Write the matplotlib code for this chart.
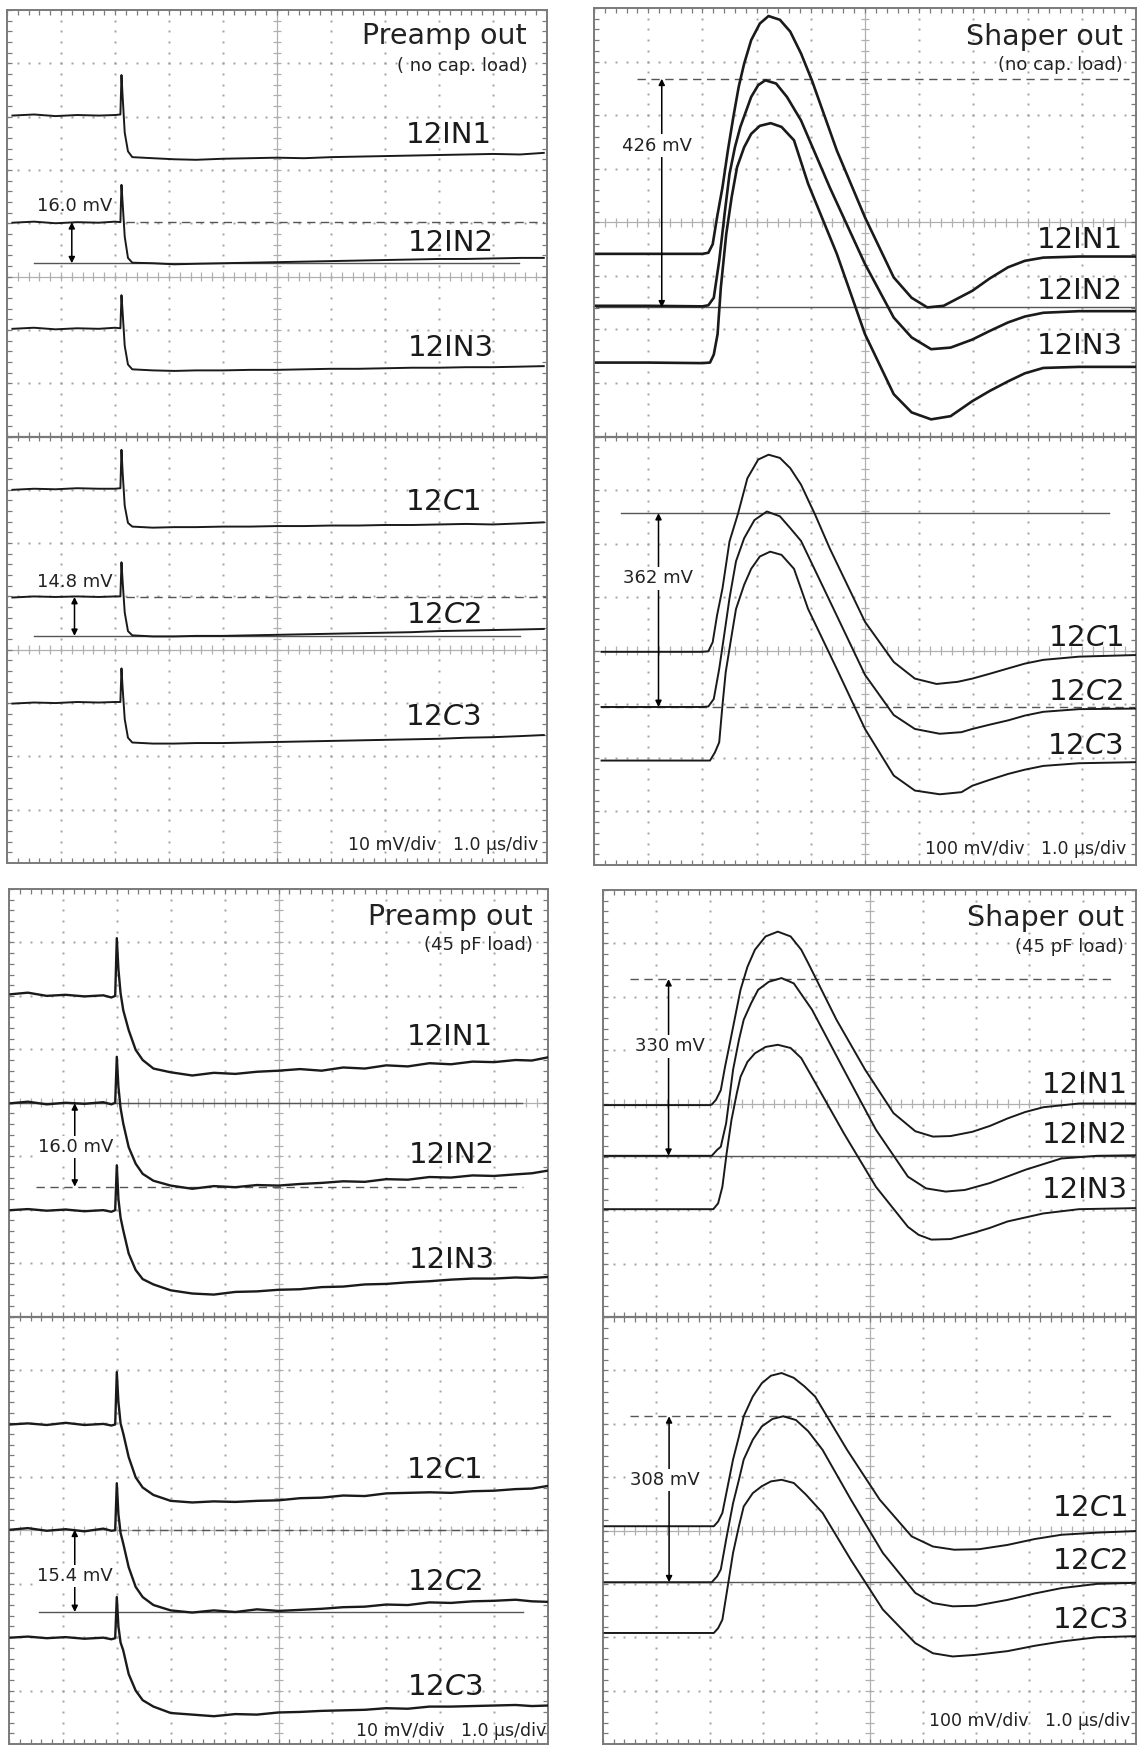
import numpy as np
import matplotlib
matplotlib.use('Agg')
import matplotlib.pyplot as plt

plt.rcParams['font.family'] = ['DejaVu Sans']
plt.rcParams['mathtext.fontset'] = 'dejavusans'

# ---------------- data (x in µs = divisions, y in screen divisions) ----------------
# Top-left: preamp out, no cap load
TL_x = [0.1, 0.5, 0.9, 1.3, 1.7, 2.0, 2.10, 2.12, 2.14, 2.18, 2.24, 2.32, 2.7, 3.1, 3.5, 4.0,
        4.5, 5.0, 5.5, 6.0, 6.5, 7.0, 7.5, 8.0, 8.5, 9.0, 9.5, 9.94]
TL_IN1 = [14.02, 14.04, 14.01, 14.03, 14.02, 14.03, 14.04, 14.78, 14.40, 13.70, 13.35, 13.24, 13.22, 13.20,
          13.19, 13.21, 13.22, 13.23, 13.22, 13.24, 13.25, 13.26, 13.27, 13.28, 13.29, 13.30, 13.29, 13.32]
TL_IN2 = [12.01, 12.03, 12.00, 12.02, 12.01, 12.03, 12.02, 12.72, 12.40, 11.75, 11.35, 11.26, 11.25, 11.23,
          11.24, 11.25, 11.26, 11.27, 11.28, 11.29, 11.30, 11.31, 11.32, 11.33, 11.33, 11.34, 11.35, 11.35]
TL_IN3 = [10.02, 10.04, 10.01, 10.03, 10.02, 10.04, 10.03, 10.65, 10.35, 9.70, 9.35, 9.26, 9.24, 9.23,
          9.24, 9.24, 9.25, 9.25, 9.26, 9.27, 9.27, 9.28, 9.29, 9.29, 9.30, 9.30, 9.31, 9.32]
TL_C1 = [7.00, 7.02, 7.01, 7.03, 7.02, 7.02, 7.03, 7.75, 7.35, 6.70, 6.38, 6.31, 6.29, 6.30,
         6.30, 6.31, 6.31, 6.32, 6.32, 6.33, 6.33, 6.34, 6.34, 6.35, 6.36, 6.35, 6.37, 6.39]
TL_C2 = [4.98, 5.00, 4.99, 5.00, 4.99, 5.00, 5.00, 5.64, 5.30, 4.70, 4.35, 4.27, 4.25, 4.25,
         4.26, 4.26, 4.27, 4.28, 4.29, 4.30, 4.31, 4.32, 4.33, 4.35, 4.36, 4.37, 4.38, 4.39]
TL_C3 = [2.99, 3.01, 3.00, 3.02, 3.01, 3.02, 3.02, 3.65, 3.30, 2.70, 2.35, 2.26, 2.24, 2.24,
         2.25, 2.25, 2.26, 2.27, 2.28, 2.29, 2.30, 2.31, 2.32, 2.33, 2.35, 2.36, 2.38, 2.40]

# Top-right: shaper out, no cap load
TR_IN1_x = [0.04, 1.0, 2.0, 2.11, 2.19, 2.27, 2.37, 2.47, 2.57, 2.67, 2.77, 2.90, 3.06, 3.22, 3.43, 3.62,
            3.82, 4.02, 4.48, 5.0, 5.53, 5.86, 6.15, 6.45, 6.98, 7.3, 7.64, 7.95, 8.29, 8.95, 10.0]
TR_IN1_y = [11.41, 11.41, 11.41, 11.43, 11.59, 12.09, 12.65, 13.34, 13.96, 14.53, 14.96, 15.40, 15.71,
            15.85, 15.78, 15.56, 15.15, 14.65, 13.34, 12.09, 10.97, 10.59, 10.41, 10.44, 10.72, 10.95,
            11.16, 11.28, 11.34, 11.36, 11.36]
TR_IN2_x = [0.04, 1.0, 2.0, 2.11, 2.21, 2.31, 2.41, 2.50, 2.60, 2.70, 2.90, 3.03, 3.16, 3.36, 3.56, 3.82,
            4.35, 5.0, 5.53, 5.86, 6.22, 6.58, 6.98, 7.3, 7.64, 7.95, 8.29, 8.95, 10.0]
TR_IN2_y = [10.44, 10.44, 10.43, 10.45, 10.59, 11.28, 12.16, 12.9, 13.40, 13.78, 14.34, 14.56, 14.65,
            14.59, 14.34, 13.9, 12.65, 11.22, 10.22, 9.85, 9.63, 9.66, 9.81, 9.97, 10.13, 10.24, 10.31,
            10.34, 10.34]
TR_IN3_x = [0.04, 1.0, 2.0, 2.14, 2.21, 2.28, 2.34, 2.44, 2.54, 2.64, 2.77, 2.90, 3.06, 3.26, 3.46, 3.69,
            3.95, 4.48, 5.0, 5.53, 5.86, 6.22, 6.58, 6.98, 7.3, 7.64, 7.95, 8.29, 8.95, 10.0]
TR_IN3_y = [9.38, 9.38, 9.37, 9.38, 9.53, 9.91, 10.78, 11.78, 12.47, 13.03, 13.4, 13.65, 13.8, 13.85,
            13.78, 13.53, 12.72, 11.41, 9.91, 8.79, 8.45, 8.32, 8.38, 8.66, 8.85, 9.03, 9.18, 9.28, 9.30, 9.30]
TR_C1_x = [0.14, 1.0, 2.0, 2.11, 2.19, 2.27, 2.37, 2.50, 2.66, 2.83, 3.03, 3.22, 3.43, 3.62, 3.82, 4.08,
           4.35, 5.0, 5.53, 5.92, 6.32, 6.71, 6.98, 7.3, 7.64, 7.95, 8.29, 8.95, 10.0]
TR_C1_y = [3.98, 3.98, 3.98, 3.99, 4.16, 4.66, 5.16, 6.04, 6.57, 7.22, 7.57, 7.66, 7.60, 7.41, 7.10, 6.54,
           5.91, 4.54, 3.79, 3.48, 3.38, 3.42, 3.48, 3.57, 3.67, 3.76, 3.83, 3.89, 3.92]
TR_C2_x = [0.14, 1.0, 2.0, 2.11, 2.21, 2.31, 2.41, 2.50, 2.62, 2.77, 2.96, 3.19, 3.43, 3.62, 3.82, 4.35,
           5.0, 5.53, 5.92, 6.38, 6.78, 6.98, 7.3, 7.64, 7.95, 8.29, 8.95, 10.0]
TR_C2_y = [2.95, 2.95, 2.95, 2.96, 3.10, 3.66, 4.35, 4.98, 5.67, 6.10, 6.44, 6.60, 6.51, 6.29, 6.05, 4.93,
           3.55, 2.80, 2.54, 2.45, 2.48, 2.54, 2.62, 2.70, 2.79, 2.86, 2.91, 2.92]
TR_C3_x = [0.14, 1.0, 2.0, 2.14, 2.23, 2.31, 2.37, 2.43, 2.54, 2.62, 2.77, 2.90, 3.06, 3.25, 3.46, 3.69,
           3.95, 4.48, 5.0, 5.53, 5.92, 6.38, 6.78, 6.98, 7.3, 7.64, 7.95, 8.29, 8.95, 10.0]
TR_C3_y = [1.95, 1.95, 1.95, 1.95, 2.10, 2.29, 2.98, 3.6, 4.29, 4.78, 5.23, 5.53, 5.76, 5.85, 5.79, 5.53,
           4.78, 3.66, 2.54, 1.67, 1.39, 1.32, 1.36, 1.48, 1.59, 1.70, 1.78, 1.85, 1.90, 1.92]

# Bottom-left: preamp out, 45 pF load
BL_x = [0.03, 0.35, 0.7, 1.05, 1.4, 1.75, 1.9, 1.97, 2.0, 2.03, 2.07, 2.12, 2.22, 2.35, 2.48, 2.68, 3.0,
        3.4, 3.8, 4.2, 4.6, 5.0, 5.4, 5.8, 6.2, 6.6, 7.0, 7.4, 7.8, 8.2, 8.6, 9.0, 9.4, 9.7, 10.0]
BL_IN1 = [14.03, 14.06, 14.0, 14.02, 13.99, 14.01, 13.97, 14.0, 15.08, 14.5, 14.05, 13.73, 13.36, 12.99,
          12.80, 12.64, 12.57, 12.51, 12.56, 12.54, 12.58, 12.60, 12.63, 12.60, 12.66, 12.64, 12.70, 12.68,
          12.74, 12.72, 12.77, 12.76, 12.80, 12.79, 12.85]
BL_IN2 = [11.99, 12.02, 11.97, 12.0, 11.98, 12.01, 11.97, 12.0, 12.86, 12.3, 11.9, 11.61, 11.17, 10.86,
          10.67, 10.54, 10.45, 10.39, 10.44, 10.42, 10.46, 10.45, 10.48, 10.50, 10.53, 10.52, 10.57, 10.56,
          10.61, 10.60, 10.64, 10.63, 10.66, 10.68, 10.73]
BL_IN3 = [9.99, 10.01, 9.98, 10.0, 9.97, 9.99, 9.96, 9.99, 10.83, 10.2, 9.85, 9.61, 9.18, 8.87,
          8.70, 8.60, 8.49, 8.43, 8.41, 8.46, 8.47, 8.50, 8.51, 8.55, 8.56, 8.60, 8.61, 8.64,
          8.66, 8.69, 8.71, 8.71, 8.73, 8.72, 8.74]
BL_C1 = [5.98, 6.0, 5.97, 6.01, 5.97, 5.99, 5.96, 5.98, 6.96, 6.4, 6.0, 5.81, 5.37, 4.99,
         4.80, 4.66, 4.55, 4.52, 4.54, 4.53, 4.55, 4.56, 4.60, 4.61, 4.65, 4.64, 4.69, 4.70,
         4.71, 4.70, 4.73, 4.74, 4.77, 4.78, 4.83]
BL_C2 = [4.01, 4.04, 3.99, 4.02, 3.98, 4.03, 3.99, 4.0, 4.88, 4.3, 3.95, 3.75, 3.31, 2.94,
         2.75, 2.60, 2.50, 2.46, 2.50, 2.47, 2.52, 2.49, 2.51, 2.53, 2.56, 2.57, 2.61, 2.60,
         2.65, 2.64, 2.67, 2.68, 2.70, 2.67, 2.66]
BL_C3 = [1.99, 2.01, 1.98, 2.0, 1.97, 1.99, 1.96, 1.98, 2.75, 2.2, 1.9, 1.75, 1.31, 1.0,
         0.82, 0.70, 0.58, 0.55, 0.52, 0.56, 0.55, 0.59, 0.60, 0.62, 0.63, 0.64, 0.67, 0.66,
         0.70, 0.70, 0.71, 0.72, 0.73, 0.71, 0.72]

# Bottom-right: shaper out, 45 pF load
BR_IN1_x = [0.03, 1.0, 2.0, 2.04, 2.12, 2.21, 2.29, 2.38, 2.48, 2.58, 2.71, 2.85, 3.05, 3.28, 3.52, 3.72,
            3.85, 4.38, 4.92, 5.45, 5.86, 6.19, 6.52, 6.93, 7.26, 7.59, 7.92, 8.26, 8.93, 10.0]
BR_IN1_y = [11.97, 11.97, 11.97, 11.98, 12.07, 12.25, 12.69, 13.13, 13.63, 14.13, 14.56, 14.88, 15.13,
            15.22, 15.13, 14.88, 14.63, 13.57, 12.63, 11.82, 11.48, 11.38, 11.39, 11.47, 11.58, 11.72,
            11.84, 11.93, 12.0, 12.0]
BR_IN2_x = [0.03, 1.0, 2.0, 2.04, 2.14, 2.21, 2.31, 2.44, 2.55, 2.64, 2.78, 2.91, 3.11, 3.35, 3.58, 3.92,
            4.52, 5.12, 5.72, 6.06, 6.43, 6.79, 7.26, 7.93, 8.6, 9.27, 10.0]
BR_IN2_y = [11.02, 11.02, 11.02, 11.02, 11.13, 11.19, 11.63, 12.63, 13.19, 13.57, 13.88, 14.13, 14.28,
            14.35, 14.25, 13.76, 12.63, 11.51, 10.63, 10.41, 10.35, 10.38, 10.51, 10.76, 10.97, 11.02, 11.03]
BR_IN3_x = [0.03, 1.0, 2.0, 2.07, 2.16, 2.24, 2.32, 2.41, 2.51, 2.58, 2.71, 2.85, 3.05, 3.28, 3.52, 3.72,
            3.92, 4.52, 5.12, 5.72, 5.92, 6.16, 6.52, 6.93, 7.26, 7.59, 8.26, 8.93, 10.0]
BR_IN3_y = [10.02, 10.02, 10.02, 10.02, 10.13, 10.44, 11.07, 11.69, 12.19, 12.5, 12.78, 12.94, 13.06,
            13.1, 13.04, 12.85, 12.5, 11.44, 10.44, 9.69, 9.54, 9.45, 9.46, 9.57, 9.67, 9.79, 9.94, 10.02,
            10.04]
BR_C1_x = [0.03, 1.0, 2.0, 2.08, 2.16, 2.24, 2.34, 2.44, 2.55, 2.64, 2.81, 2.98, 3.15, 3.35, 3.58, 3.78,
           3.98, 4.58, 5.19, 5.79, 6.19, 6.59, 7.06, 7.59, 8.1, 8.6, 9.27, 10.0]
BR_C1_y = [4.08, 4.08, 4.08, 4.08, 4.17, 4.33, 4.83, 5.33, 5.76, 6.14, 6.51, 6.76, 6.90, 6.95, 6.86, 6.70,
           6.51, 5.51, 4.58, 3.89, 3.70, 3.64, 3.65, 3.73, 3.84, 3.92, 3.96, 3.99]
BR_C2_x = [0.03, 1.0, 2.0, 2.04, 2.14, 2.21, 2.31, 2.44, 2.55, 2.64, 2.81, 2.98, 3.18, 3.38, 3.62, 3.85,
           4.12, 4.65, 5.25, 5.86, 6.19, 6.56, 6.99, 7.59, 8.1, 8.6, 9.27, 10.0]
BR_C2_y = [3.03, 3.03, 3.03, 3.03, 3.14, 3.27, 3.83, 4.51, 4.95, 5.33, 5.70, 5.95, 6.09, 6.14, 6.07, 5.86,
           5.51, 4.58, 3.58, 2.83, 2.64, 2.58, 2.59, 2.70, 2.82, 2.92, 3.0, 3.02]
BR_C3_x = [0.03, 1.0, 2.0, 2.08, 2.16, 2.24, 2.34, 2.44, 2.55, 2.64, 2.81, 2.98, 3.15, 3.35, 3.58, 3.81,
           4.12, 4.65, 5.25, 5.86, 6.19, 6.56, 6.99, 7.59, 8.1, 8.6, 9.27, 10.0]
BR_C3_y = [2.08, 2.08, 2.08, 2.08, 2.17, 2.33, 2.95, 3.58, 4.08, 4.45, 4.70, 4.83, 4.92, 4.95, 4.89, 4.67,
           4.33, 3.45, 2.52, 1.89, 1.70, 1.64, 1.67, 1.74, 1.84, 1.92, 2.0, 2.02]

# Channel labels and titles
IN_LABELS = ['12IN1', '12IN2', '12IN3']
C_LABELS = [r'12$\mathit{C}$1', r'12$\mathit{C}$2', r'12$\mathit{C}$3']
TITLES = ['Preamp out', 'Shaper out', 'Preamp out', 'Shaper out']
SUBTITLES = ['( no cap. load)', '(no cap. load)', '(45 pF load)', '(45 pF load)']
SCALES = ['10 mV/div   1.0 \u00b5s/div', '100 mV/div   1.0 \u00b5s/div',
          '10 mV/div   1.0 \u00b5s/div', '100 mV/div   1.0 \u00b5s/div']
# amplitude markers: (text, y_top, top_style, top_x0, top_x1, y_bot, bot_style, bot_x0, bot_x1,
#                     arrow_x, text_x, text_y, text_on_arrow)
MEAS = {
    'TL': [('16.0 mV', 12.02, 'dash', 2.2, 9.94, 11.25, 'solid', 0.5, 9.48, 1.20, 1.26, 12.33, False),
           ('14.8 mV', 4.99, 'dash', 2.2, 10.0, 4.26, 'solid', 0.5, 9.5, 1.25, 1.25, 5.28, False)],
    'TR': [('426 mV', 14.68, 'dash', 0.79, 9.87, 10.41, 'solid', 0.04, 10.0, 1.25, 1.17, 13.43, True),
           ('362 mV', 6.57, 'solid', 0.5, 9.51, 2.95, 'dash', 0.12, 10.0, 1.19, 1.18, 5.35, True)],
    'BL': [('16.0 mV', 11.99, 'solid', 0.03, 9.51, 10.43, 'dash', 0.5, 9.54, 1.22, 1.24, 11.17, True),
           ('15.4 mV', 4.01, 'dash', 2.03, 9.99, 2.47, 'solid', 0.56, 9.54, 1.22, 1.22, 3.15, True)],
    'BR': [('330 mV', 14.33, 'dash', 0.51, 9.63, 11.02, 'solid', 0.0, 10.0, 1.23, 1.25, 13.07, True),
           ('308 mV', 6.14, 'dash', 0.51, 9.63, 3.03, 'solid', 0.0, 10.0, 1.24, 1.17, 4.95, True)],
}

# ---------------- figure ----------------
W, H = 1138, 1746
fig = plt.figure(figsize=(W / 100, H / 100), dpi=100)
fig.patch.set_facecolor('white')


def make_ax(x0, y0, x1, y1):
    return fig.add_axes([x0 / W, 1 - y1 / H, (x1 - x0) / W, (y1 - y0) / H])


DOT = '#a0a0a0'
CEN = '#b0b0b0'
BRD = '#7a7a7a'


def draw_grid(ax, upper_center):
    ax.set_xlim(0, 10)
    ax.set_ylim(0, 16)
    ax.set_xticks([])
    ax.set_yticks([])
    for s in ax.spines.values():
        s.set_color(BRD)
        s.set_linewidth(1.4)
    mx = np.arange(0, 10.001, 0.2)
    my = np.arange(0, 16.001, 0.2)
    dx, dy = [], []
    for xi in range(1, 10):
        if xi == 5:
            continue
        dx += [xi] * len(my)
        dy += list(my)
    for yi in range(1, 16):
        if yi in (upper_center, 4, 8):
            continue
        dx += list(mx)
        dy += [yi] * len(mx)
    ax.plot(dx, dy, ls='none', marker='s', ms=1.4, mew=0, color=DOT, zorder=1)
    for yc in (upper_center, 4):
        ax.axhline(yc, color=CEN, lw=0.9, zorder=1)
        ax.vlines(mx, yc - 0.08, yc + 0.08, color=CEN, lw=0.9, zorder=1)
    ax.axvline(5, color=CEN, lw=0.9, zorder=1)
    ax.hlines(my, 5 - 0.08, 5 + 0.08, color=CEN, lw=0.9, zorder=1)
    ax.axhline(8, color=BRD, lw=1.6, zorder=1)
    ax.vlines(mx, 8 - 0.09, 8 + 0.09, color=BRD, lw=0.9, zorder=1)
    ax.vlines(mx, 0, 0.09, color=BRD, lw=0.9, zorder=1)
    ax.vlines(mx, 16 - 0.09, 16, color=BRD, lw=0.9, zorder=1)
    ax.hlines(my, 0, 0.09, color=BRD, lw=0.9, zorder=1)
    ax.hlines(my, 10 - 0.09, 10, color=BRD, lw=0.9, zorder=1)


def draw_meas(ax, m):
    (txt, yt, st_t, xt0, xt1, yb, st_b, xb0, xb1, ax_x, tx, ty, on_arrow) = m
    for yv, st, a, b in ((yt, st_t, xt0, xt1), (yb, st_b, xb0, xb1)):
        ls = (0, (6, 4)) if st == 'dash' else '-'
        ax.plot([a, b], [yv, yv], color='#555555', lw=1.0, ls=ls, zorder=2)
    ax.annotate('', xy=(ax_x, yb), xytext=(ax_x, yt),
                arrowprops=dict(arrowstyle='<|-|>', color='black', lw=1.1,
                                mutation_scale=9, shrinkA=0, shrinkB=0), zorder=3)
    kw = dict(bbox=dict(facecolor='white', edgecolor='none', pad=1.5)) if on_arrow else {}
    ax.text(tx, ty, txt, fontsize=13, ha='center', va='center', color='#222222', zorder=5, **kw)


def draw_texts(ax, title, sub, scale, title_x, title_y, sub_y, scale_x, scale_y):
    ax.text(title_x, title_y, title, fontsize=20.5, ha='right', va='center', color='#222222', zorder=5)
    ax.text(title_x, sub_y, sub, fontsize=13, ha='right', va='center', color='#222222', zorder=5)
    ax.text(scale_x, scale_y, scale, fontsize=12.5, ha='right', va='center', color='#222222', zorder=5)


def labels(ax, names, xs, ys):
    for n, x, y in zip(names, xs, ys):
        ax.text(x, y, n, fontsize=21, ha='right', va='center', color='#1a1a1a', zorder=5)


TRACE = '#1a1a1a'

# --- Top-left
ax = make_ax(7, 10, 547, 863)
draw_grid(ax, 11)
for ys in (TL_IN1, TL_IN2, TL_IN3, TL_C1, TL_C2, TL_C3):
    ax.plot(TL_x, ys, color=TRACE, lw=1.4, zorder=3)
for m in MEAS['TL']:
    draw_meas(ax, m)
draw_texts(ax, TITLES[0], SUBTITLES[0], SCALES[0], 9.63, 15.51, 14.95, 9.84, 0.33)
labels(ax, IN_LABELS, [8.98, 9.01, 9.01], [13.65, 11.63, 9.66])
labels(ax, C_LABELS, [8.76, 8.77, 8.77], [6.77, 4.65, 2.74])

# --- Top-right
ax = make_ax(594, 8, 1136, 865)
draw_grid(ax, 12)
for xs, ys in ((TR_IN1_x, TR_IN1_y), (TR_IN2_x, TR_IN2_y), (TR_IN3_x, TR_IN3_y)):
    ax.plot(xs, ys, color=TRACE, lw=1.9, zorder=3, solid_joinstyle='round')
for xs, ys in ((TR_C1_x, TR_C1_y), (TR_C2_x, TR_C2_y), (TR_C3_x, TR_C3_y)):
    ax.plot(xs, ys, color=TRACE, lw=1.4, zorder=3, solid_joinstyle='round')
for m in MEAS['TR']:
    draw_meas(ax, m)
draw_texts(ax, TITLES[1], SUBTITLES[1], SCALES[1], 9.76, 15.46, 14.93, 9.82, 0.30)
labels(ax, IN_LABELS, [9.76, 9.76, 9.76], [11.66, 10.72, 9.69])
labels(ax, C_LABELS, [9.76, 9.76, 9.76], [4.23, 3.23, 2.23])

# --- Bottom-left
ax = make_ax(9, 889, 548, 1744)
draw_grid(ax, 12)
for ys in (BL_IN1, BL_IN2, BL_IN3, BL_C1, BL_C2, BL_C3):
    ax.plot(BL_x, ys, color=TRACE, lw=1.7, zorder=3)
for m in MEAS['BL']:
    draw_meas(ax, m)
draw_texts(ax, TITLES[2], SUBTITLES[2], SCALES[2], 9.72, 15.48, 14.95, 9.96, 0.25)
labels(ax, IN_LABELS, [8.98, 9.01, 9.01], [13.23, 11.02, 9.05])
labels(ax, C_LABELS, [8.76, 8.78, 8.78], [5.12, 3.03, 1.06])

# --- Bottom-right
ax = make_ax(603, 890, 1136, 1744)
draw_grid(ax, 12)
for xs, ys in ((BR_IN1_x, BR_IN1_y), (BR_IN2_x, BR_IN2_y), (BR_IN3_x, BR_IN3_y),
               (BR_C1_x, BR_C1_y), (BR_C2_x, BR_C2_y), (BR_C3_x, BR_C3_y)):
    ax.plot(xs, ys, color=TRACE, lw=1.4, zorder=3, solid_joinstyle='round')
for m in MEAS['BR']:
    draw_meas(ax, m)
draw_texts(ax, TITLES[3], SUBTITLES[3], SCALES[3], 9.78, 15.47, 14.94, 9.9, 0.43)
labels(ax, IN_LABELS, [9.84, 9.84, 9.84], [12.35, 11.41, 10.38])
labels(ax, C_LABELS, [9.84, 9.84, 9.84], [4.42, 3.42, 2.33])

fig.savefig('out.png', dpi=100, facecolor='white')
